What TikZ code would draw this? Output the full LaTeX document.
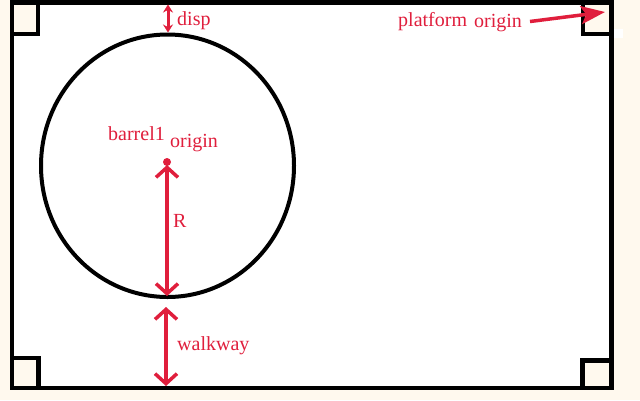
\documentclass[tikz,border=0pt]{standalone}
\usepackage{fontspec}
\setmainfont{Liberation Serif}
\usetikzlibrary{arrows.meta,shapes.geometric}
\definecolor{cream}{RGB}{255,249,238}
\definecolor{lbl}{RGB}{224,30,60}
\tikzset{
  frame/.style={line width=4.5pt, draw=black},
  cornerbox/.style={line width=4.5pt, draw=black, fill=cream},
  txt/.style={text=lbl, inner sep=0pt, anchor=base west, font=\fontsize{20}{22}\selectfont},
  dim/.style={draw=lbl, line width=3.5pt, {Straight Barb[length=10pt,width=22pt,line width=3.5pt]}-{Straight Barb[length=10pt,width=22pt,line width=3.5pt]}},
  smalldim/.style={draw=lbl, line width=3pt, {Stealth[length=8pt,width=10pt]}-{Stealth[length=8pt,width=10pt]}},
  pointer/.style={draw=lbl, line width=3.5pt, -{Stealth[length=24pt,width=18pt,inset=5pt]}}
}
\begin{document}
\begin{tikzpicture}[x=1pt,y=-1pt]
\useasboundingbox (0,0) rectangle (640,400);
\fill[cream] (0,0) rectangle (640,400);
\fill[white] (12,2.5) rectangle (611.5,388);
\fill[white] (614,29) rectangle (623,38);
% corner squares
\draw[cornerbox] (12,2.5) rectangle (38,34);
\draw[cornerbox] (583,2.5) rectangle (611.5,34);
\draw[cornerbox] (12,358) rectangle (38.5,388);
\draw[cornerbox] (582.5,360.5) rectangle (611.5,388);
% frame
\draw[frame] (12,2.5) rectangle (611.5,388);
% barrel
\node[draw=black, line width=4pt, ellipse, minimum width=253pt, minimum height=262.5pt, inner sep=0pt] (barrel) at (167.5,165.75) {};
% dot
\fill[lbl] (167,162) circle (4pt);
\coordinate (dot) at (167,165);
\coordinate (top) at (168,4.5);
\coordinate (bot) at (166,386);
\coordinate (ptail) at (530,21.5);
\coordinate (ptip) at (605,12);
% dimension arrows
\draw[smalldim] (top) -- (barrel.north -| top);
\draw[dim] (dot) -- (167,296);
\draw[dim] (166,307) -- (bot);
\draw[pointer] (ptail) -- (ptip);
% labels
\node[txt] (disp) at (177,25) {disp};
\node[txt] (plat) at (398,26) {platform};
\node[txt] (porig) at (474,27.5) {origin};
\node[txt] (bar) at (108,140) {barrel1};
\node[txt] (borig) at (170,147) {origin};
\node[txt] (rlab) at (173,227) {R};
\node[txt] (walk) at (177,350) {walkway};
\end{tikzpicture}
\end{document}
